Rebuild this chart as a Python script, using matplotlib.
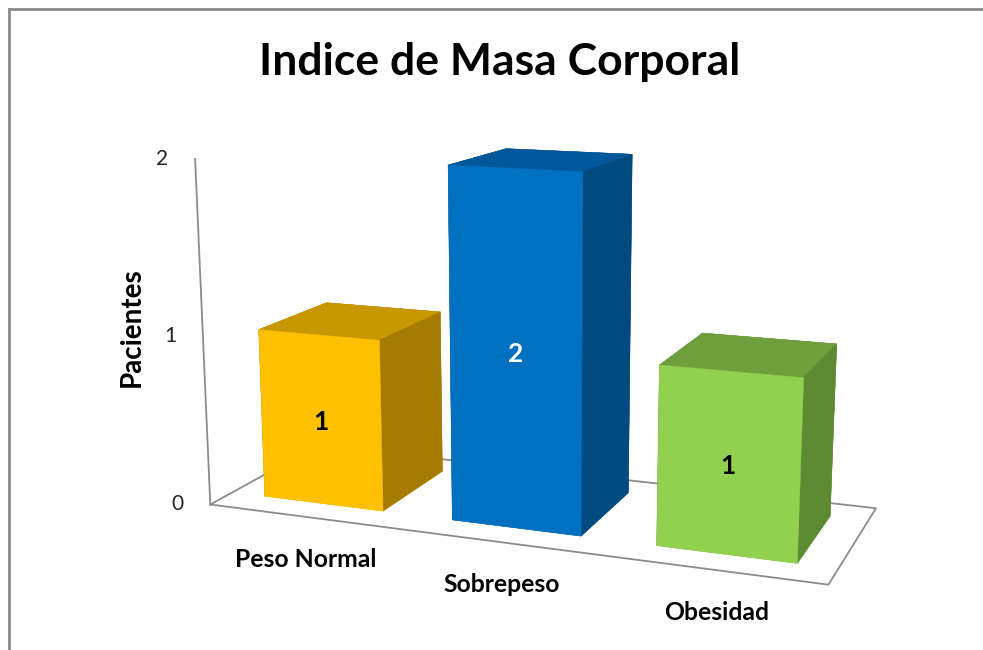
import numpy as np
import matplotlib
matplotlib.use("Agg")
import matplotlib.pyplot as plt
from matplotlib.transforms import offset_copy
from mpl_toolkits.mplot3d import proj3d

plt.rcParams['font.family'] = ['Lato', 'DejaVu Sans']

# data
categorias = ['Peso Normal', 'Sobrepeso', 'Obesidad']
pacientes = [1, 2, 1]
ticks = [0, 1, 2]

# colours per bar: front, top, side
frente = ['#FFC000', '#0070C0', '#92D050']
tapa = ['#C79800', '#00589B', '#6F9E3C']
lado = ['#A67C00', '#004A7F', '#5D8A32']
color_texto = ['black', 'white', 'black']

fig = plt.figure(figsize=(9.83, 6.5), dpi=100)
ax = fig.add_axes([0.1620, -0.1072, 0.7583, 1.1468], projection='3d')
ax.set_axis_off()
ax.computed_zorder = False
ax.set_xticks([])
ax.set_yticks([])
ax.set_zticks([])
for t in (ax.title, ax._left_title, ax._right_title):
    t.set_visible(False)
for a in (ax.xaxis, ax.yaxis, ax.zaxis):
    a.label.set_visible(False)
    a.offsetText.set_visible(False)

ax.set_xlim(0, len(categorias))
ax.set_ylim(0, 1)
ax.set_zlim(0, max(ticks))
ax.set_box_aspect((3.44, 1.25, 1.91))
ax.view_init(elev=12.7, azim=-69)
ax.set_proj_type('persp', focal_length=0.432)

# floor outline
fx = [0, len(categorias), len(categorias), 0, 0]
fy = [0, 0, 1, 1, 0]
ax.plot(fx, fy, [0] * 5, color='#8C8C8C', lw=1.3, zorder=1)
# vertical axis line
ax.plot([0, 0], [0, 0], [0, max(ticks)], color='#8C8C8C', lw=1.3, zorder=1)

# bars
ancho = 0.64
y0, prof = 0.19, 0.63
xs = np.arange(len(categorias)) + 0.5 - ancho / 2
caras = []
for i in range(len(categorias)):
    # order: -z, +z, -y, +y, -x, +x
    caras += [frente[i], tapa[i], frente[i], lado[i], lado[i], lado[i]]
ax.bar3d(xs, [y0] * len(xs), [0] * len(xs), ancho, prof, pacientes,
         color=caras, edgecolor=caras, linewidth=0.3, shade=False, zorder=2)

# value labels on front faces
for i, v in enumerate(pacientes):
    ax.text(i + 0.5, y0, v / 2 - 0.01, str(v), color=color_texto[i],
            fontsize=19, fontweight='bold', ha='center', va='center', zorder=5)

M = ax.get_proj()

# tick labels next to the vertical axis
for t in ticks:
    px, py, _ = proj3d.proj_transform(0, 0, t, M)
    tr = offset_copy(ax.transData, fig=fig, x=-33, y=0, units='dots')
    ax.text2D(px, py, str(t), transform=tr, fontsize=15, ha='center',
              va='center', color='#222222')

# category labels under the floor
for i, c in enumerate(categorias):
    px, py, _ = proj3d.proj_transform(i + 0.5, 0, 0, M)
    tr = offset_copy(ax.transData, fig=fig, x=3, y=-43, units='dots')
    ax.text2D(px, py, c, transform=tr, fontsize=17.8, fontweight='bold',
              ha='center', va='center', color='black')

fig.text(132 / 983, 1 - 327 / 650, 'Pacientes', rotation=90, fontsize=20,
         fontweight='bold', ha='center', va='center')
fig.text(500 / 983, 1 - 62 / 650, 'Indice de Masa Corporal', fontsize=32,
         fontweight='bold', ha='center', va='center')

# chart border (left and top edges visible)
fig.add_artist(plt.Line2D([9 / 983, 9 / 983], [0, 1 - 9 / 650],
                          transform=fig.transFigure, color='#8C8C8C', lw=2))
fig.add_artist(plt.Line2D([9 / 983, 1], [1 - 9 / 650, 1 - 9 / 650],
                          transform=fig.transFigure, color='#8C8C8C', lw=2))

fig.savefig('out.png', dpi=100, facecolor='white')
